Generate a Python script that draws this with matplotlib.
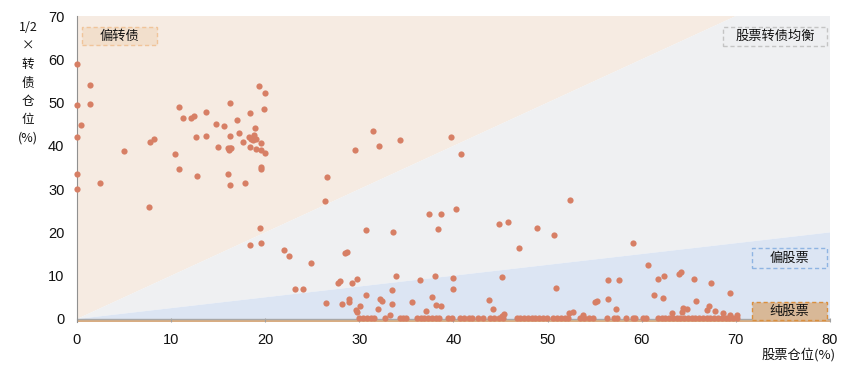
"""Stock vs convertible-bond allocation scatter."""

import matplotlib.pyplot as plt
from matplotlib.patches import Polygon, Rectangle

plt.rcParams["font.family"] = ["Noto Sans CJK SC", "DejaVu Sans"]

# fund positions: stock weight (%) and 1/2 x convertible weight (%)
stock_pos = [
    0.0, 1.4, 0.0, 1.35, 0.43, 0.0, 0.0, 0.0, 2.4, 5.0, 7.65, 7.8, 8.2,
    10.4, 10.8, 10.8, 11.3, 12.1, 12.4, 12.6, 12.8, 13.7, 13.7, 14.8, 15.0,
    15.65, 16.0, 16.3, 16.3, 16.0, 16.4, 16.2, 16.3, 16.3, 17.0, 17.2, 17.6,
    17.8, 18.4, 18.3, 18.35, 18.5, 18.7, 19.0, 18.85, 18.9, 19.0, 19.3, 19.6,
    19.6, 19.55, 19.6, 19.9, 20.0, 20.0,
    31.4, 32.1, 29.5, 34.3, 39.7, 40.8, 26.6, 26.3, 19.4, 30.7, 33.6, 37.4,
    38.7, 40.3, 38.4, 44.8, 18.4, 19.6, 22.0, 22.5, 24.9, 23.2, 24.0, 28.5,
    28.7, 26.5, 27.7, 27.9, 29.2, 29.8, 28.2, 28.9, 28.9, 30.7, 29.6, 29.7,
    30.1, 32.0, 32.2, 32.4, 33.5, 33.9, 33.5, 33.3, 36.4, 38.0, 35.6, 37.7,
    38.1, 38.7, 37.1,
    45.8, 48.9, 50.7, 47.0, 52.4, 39.9, 40.0, 45.2, 50.9, 43.8, 44.2, 45.2,
    45.4, 52.3, 52.7, 53.8, 55.0, 55.2, 56.4, 57.6, 56.4, 57.3,
    59.1, 60.7, 61.7, 62.4, 64.0, 64.2, 65.5, 67.4, 61.3, 62.3, 65.8, 69.4,
    63.2, 64.4, 64.8, 64.3, 67.1, 66.9, 67.8, 68.6, 69.4, 70.1,
]
bond_pos = [
    58.9, 54.1, 49.5, 49.7, 44.9, 42.1, 33.6, 30.1, 31.4, 38.8, 25.8, 41.0,
    41.6, 38.1, 49.0, 34.6, 46.4, 46.4, 46.9, 42.0, 33.0, 47.9, 42.2, 45.1,
    39.8, 44.6, 33.6, 49.8, 42.3, 39.6, 39.5, 39.1, 39.4, 31.0, 45.9, 42.9,
    40.8, 31.4, 47.6, 42.1, 39.8, 41.5, 41.3, 41.5, 42.4, 44.2, 39.3, 53.9,
    40.7, 39.1, 34.7, 35.0, 48.6, 52.2, 38.3,
    43.4, 40.0, 39.1, 41.4, 42.0, 38.1, 32.7, 27.2, 21.0, 20.6, 20.0, 24.3,
    24.2, 25.3, 20.8, 22.0, 17.1, 17.6, 16.0, 14.6, 13.0, 7.0, 7.0, 15.2,
    15.5, 3.7, 8.3, 8.8, 8.4, 9.2, 3.4, 4.7, 4.0, 5.6, 2.1, 1.5,
    2.9, 2.2, 4.5, 4.2, 6.7, 9.9, 3.5, 0.9, 9.0, 9.9, 3.9, 5.1,
    3.2, 3.0, 1.8,
    22.3, 21.1, 19.5, 16.5, 27.4, 9.4, 6.9, 9.7, 7.2, 4.4, 2.3, 0.7,
    1.2, 1.4, 1.6, 1.0, 3.9, 4.1, 8.9, 8.9, 4.5, 2.4,
    17.6, 12.5, 9.2, 10.0, 10.5, 10.8, 9.2, 8.2, 5.6, 4.9, 4.1, 6.1,
    1.4, 2.5, 2.3, 1.6, 3.0, 2.1, 1.8, 1.4, 1.0, 1.0,
]

# funds sitting on the axis (almost no convertibles)
stock_pure = [
    30.0, 30.4, 30.8, 31.2, 31.6, 32.7, 34.3, 34.6, 35.0, 36.1, 36.5, 36.9,
    37.3, 37.7, 38.1, 38.5, 39.4, 39.8, 40.7, 41.1, 41.6, 42.0, 42.6, 43.1,
    43.9, 44.3, 44.8, 45.3, 46.7, 47.1, 47.5, 47.9, 48.3, 48.7, 49.1, 49.5,
    49.9, 50.6, 51.0, 51.4, 51.8, 52.2, 53.4, 53.9, 54.4, 54.8, 56.3, 57.0,
    57.4, 58.3, 59.1, 59.3, 60.1, 60.4, 61.7, 62.1, 62.5, 62.9, 63.3, 63.7,
    64.1, 64.5, 64.9, 65.3, 65.7, 66.1, 66.5, 66.9, 67.3, 67.7, 68.1, 68.5,
    68.9, 69.3, 69.7, 70.1,
]
bond_pure = [
    0.2, 0.3, 0.2, 0.3, 0.2, 0.2, 0.3, 0.2, 0.2, 0.3, 0.2, 0.2,
    0.3, 0.2, 0.2, 0.3, 0.2, 0.3, 0.2, 0.2, 0.3, 0.2, 0.2, 0.2,
    0.2, 0.3, 0.2, 0.3, 0.2, 0.3, 0.2, 0.2, 0.3, 0.2, 0.2, 0.3,
    0.2, 0.2, 0.3, 0.2, 0.2, 0.3, 0.2, 0.3, 0.2, 0.3, 0.2, 0.3,
    0.2, 0.2, 0.3, 0.2, 0.2, 0.3, 0.2, 0.3, 0.2, 0.2, 0.3, 0.2,
    0.3, 0.2, 0.2, 0.3, 0.2, 0.2, 0.3, 0.2, 0.2, 0.3, 0.2, 0.2,
    0.3, 0.2, 0.2, 0.3,
]

x_ticks = [0, 10, 20, 30, 40, 50, 60, 70, 80]
y_ticks = [0, 10, 20, 30, 40, 50, 60, 70]

# zone boundaries: bond-heavy above y = x, stock-heavy below y = x / 4
x_max, y_max = 80, 70
stock_slope = 0.25

BEIGE = "#f6ebe2"
GREY = "#eff0f2"
BLUE = "#dce5f3"
TAN = "#d9ad82"
DOT = "#d77f65"
NUM_FONT = ["Liberation Sans", "DejaVu Sans"]

fig = plt.figure(figsize=(8.61, 3.69), dpi=100)
ax = fig.add_axes([0.0894, 0.1274, 0.8746, 0.8292])

ax.add_patch(Polygon([(0, 0), (0, y_max), (y_max, y_max)], closed=True,
                     facecolor=BEIGE, edgecolor="none", zorder=0))
ax.add_patch(Polygon([(0, 0), (y_max, y_max), (x_max, y_max),
                      (x_max, x_max * stock_slope)], closed=True,
                     facecolor=GREY, edgecolor="none", zorder=0))
ax.add_patch(Polygon([(0, 0), (x_max, x_max * stock_slope), (x_max, 0)],
                     closed=True, facecolor=BLUE, edgecolor="none", zorder=0))
ax.axhspan(-0.7, 0, color=TAN, lw=0, zorder=1)
ax.axhline(0, color="#a8a8a8", lw=1.0, zorder=2)

ax.scatter(stock_pos, bond_pos, s=20, color=DOT, lw=0, zorder=3, clip_on=False)
ax.scatter(stock_pure, bond_pure, s=20, color=DOT, lw=0, zorder=3, clip_on=False)

ax.set_xlim(0, x_max)
ax.set_ylim(-0.7, y_max)
ax.set_xticks(x_ticks)
ax.set_yticks(y_ticks)
ax.tick_params(axis="x", direction="in", length=3, color="#a0a0a0",
               labelsize=10.5, pad=8, labelcolor="#111111")
ax.tick_params(axis="y", length=0, labelsize=10.5, pad=9, labelcolor="#111111")
for lbl in ax.get_xticklabels() + ax.get_yticklabels():
    lbl.set_family(NUM_FONT)
for side in ("top", "right", "bottom"):
    ax.spines[side].set_visible(False)
ax.spines["left"].set_color("#909090")

# zone tags (axes fraction)
tags = [
    ("偏转债", (0.0066, 0.904, 0.0996, 0.060), "#f2dfcc", "#f0c49a"),
    ("股票转债均衡", (0.858, 0.901, 0.138, 0.063), "#eeeff1", "#c4c4c4"),
    ("偏股票", (0.896, 0.178, 0.100, 0.063), "#dce5f3", "#8fb4e2"),
    ("纯股票", (0.896, 0.006, 0.100, 0.060), "#d8b897", "#d98f3e"),
]
for label, (x0, y0, w, h), face, edge in tags:
    ax.add_patch(Rectangle((x0, y0), w, h, transform=ax.transAxes,
                           facecolor=face, edgecolor=edge, lw=1.0,
                           ls=(0, (3, 2)), zorder=4, clip_on=False))
    ax.text(x0 + w / 2, y0 + h / 2, label, transform=ax.transAxes,
            ha="center", va="center", fontsize=9.5, color="#111111", zorder=5)

fig.text(28 / 861, 1 - 21 / 369, "1/2\n×\n转\n债\n仓\n位\n(%)",
         ha="center", va="top", fontsize=9, linespacing=1.55, color="#111111")
fig.text(836 / 861, 1 - 355 / 369, "股票仓位(%)", ha="right", va="center",
         fontsize=9.5, color="#111111")

fig.savefig("out.png", dpi=100)
plt.close(fig)
